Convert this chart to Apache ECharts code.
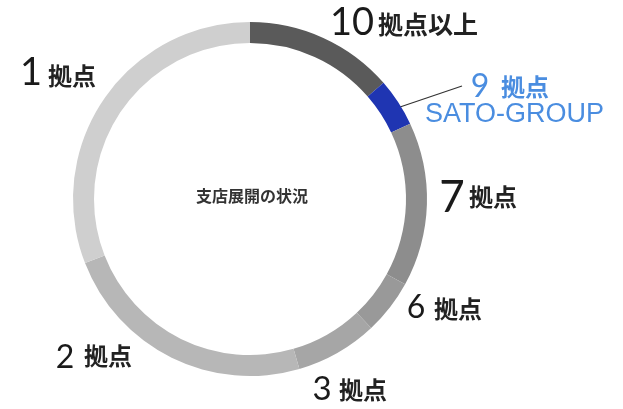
<!DOCTYPE html>
<html>
<head>
<meta charset="utf-8">
<script src="https://cdn.jsdelivr.net/npm/echarts@6/dist/echarts.min.js"></script>
<style>
html,body{margin:0;padding:0;background:#fff;}
#chart{width:623px;height:409px;}
</style>
</head>
<body>
<div id="chart"></div>
<script>
// ---- data ----
const categories = ['10拠点以上', '9拠点', '7拠点', '6拠点', '3拠点', '2拠点', '1拠点'];
const shares = [13.6, 4.4, 15.0, 5.0, 7.5, 23.6, 30.9];
const numberLabels = ['10', '9', '7', '6', '3', '2', '1'];
const unitLabels = ['拠点以上', '拠点', '拠点', '拠点', '拠点', '拠点', '拠点'];
const highlightName = 'SATO-GROUP';
const centerTitle = '支店展開の状況';

// ---- styles ----
const colors = ['#5a5a5a', '#1f35b2', '#8d8d8d', '#999999', '#a6a6a6', '#b7b7b7', '#cfcfcf'];
// [digitCenterX, digitCenterY, digitSize, unitLeftX, unitCenterY, unitSize]
const labelLayout = [
  [352, 23, 38, 378, 24, 25],
  [480, 87, 32, 501, 87, 24],
  [452, 198, 44, 469, 197, 24],
  [416, 308, 32, 434, 309, 24],
  [322, 389, 33, 339, 390, 24],
  [65, 358, 32, 84, 356, 24],
  [31, 73, 38, 48, 76, 24]
];

const chart = echarts.init(document.getElementById('chart'), null, {renderer: 'canvas'});

const graphics = [];
categories.forEach((c, i) => {
  const L = labelLayout[i];
  const isHi = i === 1;
  const col = isHi ? '#4a8de0' : '#1a1a1a';
  graphics.push({
    type: 'text', x: L[0], y: L[1], silent: true,
    style: {text: numberLabels[i], fill: col, font: 'normal ' + L[2] + 'px Lato, "Noto Sans", sans-serif',
      textAlign: 'center', textVerticalAlign: 'middle'}
  });
  graphics.push({
    type: 'text', x: L[3], y: L[4], silent: true,
    style: {text: unitLabels[i], fill: isHi ? '#4a8de0' : '#222', font: 'bold ' + L[5] + 'px "Noto Sans CJK JP", sans-serif',
      textAlign: 'left', textVerticalAlign: 'middle'}
  });
});
graphics.push({
  type: 'text', x: 425, y: 115, silent: true,
  style: {text: highlightName, fill: '#4a8de0', font: '27px "Liberation Sans", Arial, sans-serif',
    textAlign: 'left', textVerticalAlign: 'middle'}
});
graphics.push({
  type: 'line', silent: true,
  shape: {x1: 400, y1: 107, x2: 462, y2: 86},
  style: {stroke: '#333', lineWidth: 1.2}
});
graphics.push({
  type: 'text', x: 252, y: 196, silent: true,
  style: {text: centerTitle, fill: '#333', font: 'bold 16px "Noto Sans CJK JP", sans-serif',
    textAlign: 'center', textVerticalAlign: 'middle'}
});

chart.setOption({
  backgroundColor: '#ffffff',
  animation: false,
  series: [{
    type: 'pie',
    center: [250, 199],
    radius: [156, 177],
    startAngle: 90,
    clockwise: true,
    avoidLabelOverlap: false,
    label: {show: false},
    labelLine: {show: false},
    emphasis: {disabled: true},
    itemStyle: {borderWidth: 0},
    data: categories.map((c, i) => ({name: c, value: shares[i], itemStyle: {color: colors[i]}}))
  }],
  graphic: graphics
});
</script>
</body>
</html>
